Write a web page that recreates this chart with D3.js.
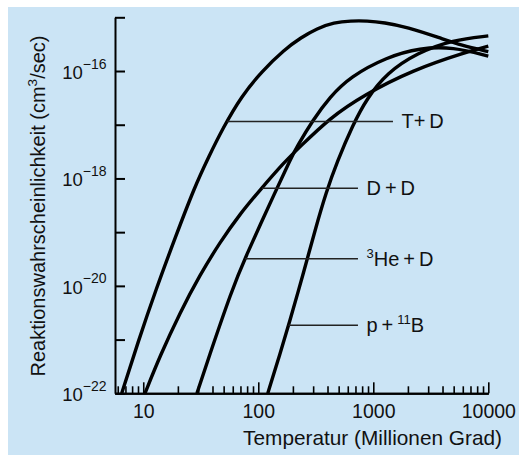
<!DOCTYPE html>
<html>
<head>
<meta charset="utf-8">
<script src="https://cdn.jsdelivr.net/npm/d3@7"></script>
<style>
  html, body { margin: 0; padding: 0; background: #fff; }
  svg { display: block; font-family: "Liberation Sans", Arial, Helvetica, sans-serif; }
</style>
</head>
<body>
<svg id="chart" width="519" height="455"></svg>
<script>
// Temperatures in millions of kelvin, reaction rates <σv> in cm³/s.
const tdTemp = [6.5, 9.0, 13.0, 19.0, 28.0, 37.0, 49.0, 72.0, 108, 168, 236, 324, 455, 640, 880, 1240, 1960, 3840, 5800, 10000];
const tdRate = [1.0e-22, 9.0e-22, 9.0e-21, 8.0e-20, 7.0e-19, 2.5e-18, 8.5e-18, 3.5e-17, 1.0e-16, 2.5e-16, 4.2e-16, 6.2e-16, 8.0e-16, 8.6e-16, 8.6e-16, 8.0e-16, 6.6e-16, 4.1e-16, 3.0e-16, 2.3e-16];

const ddTemp = [10.35, 14.0, 20.9, 31.1, 46.5, 69.5, 103, 168, 228, 420, 813, 2213, 6520, 10000];
const ddRate = [1.0e-22, 5.0e-22, 3.2e-21, 1.6e-20, 6.5e-20, 2.2e-19, 6.0e-19, 2.0e-18, 3.8e-18, 1.34e-17, 3.5e-17, 1.05e-16, 2.27e-16, 2.9e-16];

const hedTemp = [29.3, 36.5, 59.0, 76.6, 146, 189, 217, 299, 420, 627, 1315, 2547, 4930, 10000];
const hedRate = [1.0e-22, 4.2e-22, 8.4e-21, 3.3e-20, 6.7e-19, 2.2e-18, 3.9e-18, 1.23e-17, 3.3e-17, 7.8e-17, 1.83e-16, 2.7e-16, 2.8e-16, 1.9e-16];

const pbTemp = [121, 151, 185, 250, 312, 390, 483, 665, 881, 1315, 2399, 4930, 10000];
const pbRate = [1.0e-22, 4.6e-22, 1.95e-21, 1.9e-20, 1.1e-19, 5.6e-19, 2.0e-18, 1.0e-17, 3.1e-17, 9.2e-17, 2.17e-16, 3.8e-16, 4.5e-16];

// Curve labels: rate at which the leader line leaves the curve, temperature where it ends.
const labelNames = [
  [{t: "T+\u2009D"}],
  [{t: "D\u2009+\u2009D"}],
  [{t: "3", sup: true}, {t: "He\u2009+\u2009D"}],
  [{t: "p\u2009+\u2009"}, {t: "11", sup: true}, {t: "B"}]
];
const labelRate = [1.15e-17, 6.6e-19, 3.2e-20, 1.85e-21];
const labelEndTemp = [1483, 736, 736, 736];

// Axis extents and ticks
const tempMin = 5.68, tempMax = 10000;
const rateMin = 1e-22, rateMax = 1e-15;
const tempMajor = [10, 100, 1000, 10000];
const tempMinor = [6, 7, 8, 9, 20, 30, 40, 50, 60, 70, 80, 90, 200, 300, 400, 500, 600, 700, 800, 900, 2000, 3000, 4000, 5000, 6000, 7000, 8000, 9000];
const rateTicks = [1e-22, 1e-21, 1e-20, 1e-19, 1e-18, 1e-17, 1e-16, 1e-15];
const rateLabelExp = [-22, -20, -18, -16];

const xTitle = "Temperatur (Millionen Grad)";
const yTitle = "Reaktionswahrscheinlichkeit (cm";

const svg = d3.select("#chart");
const W = 519, H = 455;

svg.append("rect")
  .attr("x", 8).attr("y", 7)
  .attr("width", W - 8).attr("height", H - 7)
  .attr("fill", "#cbe4f5");

const x = d3.scaleLog().domain([tempMin, tempMax]).range([115, 488.3]);
const y = d3.scaleLog().domain([rateMin, rateMax]).range([393.3, 17.3]);

// y axis: ticks point inward, labels as powers of ten
const yAxis = d3.axisLeft(y)
  .tickValues(rateTicks)
  .tickSizeInner(-10).tickSizeOuter(0).tickPadding(8)
  .tickFormat(() => "");
const gy = svg.append("g").attr("transform", `translate(${x.range()[0]},0)`).call(yAxis);
gy.select(".domain").attr("stroke", "#000").attr("stroke-width", 2);
gy.selectAll(".tick line").attr("stroke", "#000").attr("stroke-width", 2);

rateLabelExp.forEach(e => {
  const t = svg.append("text")
    .attr("x", x.range()[0] - 8.5)
    .attr("y", y(Math.pow(10, e)) + 8)
    .attr("text-anchor", "end")
    .attr("font-size", 18.5)
    .attr("fill", "#111");
  t.append("tspan").text("10");
  t.append("tspan").attr("dy", -10.5).attr("font-size", 14).text("\u2212" + Math.abs(e));
});

// x axis: major and minor ticks point inward
const xAxisMinor = d3.axisBottom(x).tickValues(tempMinor)
  .tickSizeInner(-7).tickSizeOuter(0).tickFormat(() => "");
const xAxisMajor = d3.axisBottom(x).tickValues(tempMajor)
  .tickSizeInner(-11).tickSizeOuter(0).tickPadding(11)
  .tickFormat(d3.format("d"));
const gx1 = svg.append("g").attr("transform", `translate(0,${y.range()[0]})`).call(xAxisMinor);
const gx2 = svg.append("g").attr("transform", `translate(0,${y.range()[0]})`).call(xAxisMajor);
[gx1, gx2].forEach(g => {
  g.select(".domain").attr("stroke", "#000").attr("stroke-width", 2);
  g.selectAll(".tick line").attr("stroke", "#000").attr("stroke-width", 1.6);
});
gx2.selectAll(".tick text")
  .attr("font-size", 19.5)
  .attr("font-family", "Liberation Sans, Arial, sans-serif")
  .attr("fill", "#111")
  .attr("dy", "0.68em");

// axis titles
svg.append("text")
  .attr("x", 502).attr("y", 445)
  .attr("text-anchor", "end")
  .attr("font-size", 20.8)
  .attr("fill", "#111")
  .text(xTitle);

const yt = svg.append("text")
  .attr("transform", "translate(45,206) rotate(-90)")
  .attr("text-anchor", "middle")
  .attr("font-size", 20)
  .attr("fill", "#111");
yt.append("tspan").text(yTitle);
yt.append("tspan").attr("dy", -8).attr("font-size", 13.5).text("3");
yt.append("tspan").attr("dy", 8).text("/sec)");

// reaction-rate curves
const line = d3.line()
  .x(d => x(d[0]))
  .y(d => y(d[1]))
  .curve(d3.curveBasis);

const series = [
  d3.zip(tdTemp, tdRate),
  d3.zip(ddTemp, ddRate),
  d3.zip(hedTemp, hedRate),
  d3.zip(pbTemp, pbRate)
];

const paths = series.map(s =>
  svg.append("path")
    .datum(s)
    .attr("d", line)
    .attr("fill", "none")
    .attr("stroke", "#000")
    .attr("stroke-width", 3.4)
    .attr("stroke-linejoin", "round")
    .node()
);

// leader lines and labels
paths.forEach((p, i) => {
  const targetY = y(labelRate[i]);
  const len = p.getTotalLength();
  let startX = null;
  for (let l = 0; l <= len; l += 0.25) {
    const pt = p.getPointAtLength(l);
    if (pt.y <= targetY) { startX = pt.x; break; }
  }
  const endX = x(labelEndTemp[i]);
  svg.append("line")
    .attr("x1", startX).attr("x2", endX)
    .attr("y1", targetY).attr("y2", targetY)
    .attr("stroke", "#222")
    .attr("stroke-width", 1.5);
  const t = svg.append("text")
    .attr("x", endX + 8.5)
    .attr("y", targetY + 7)
    .attr("font-size", 20)
    .attr("fill", "#111");
  let raised = false;
  labelNames[i].forEach(part => {
    const ts = t.append("tspan").text(part.t);
    if (part.sup && !raised) { ts.attr("dy", -8).attr("font-size", 13).attr("dx", 0); raised = true; }
    else if (!part.sup && raised) { ts.attr("dy", 8); raised = false; }
  });
});
</script>
</body>
</html>
